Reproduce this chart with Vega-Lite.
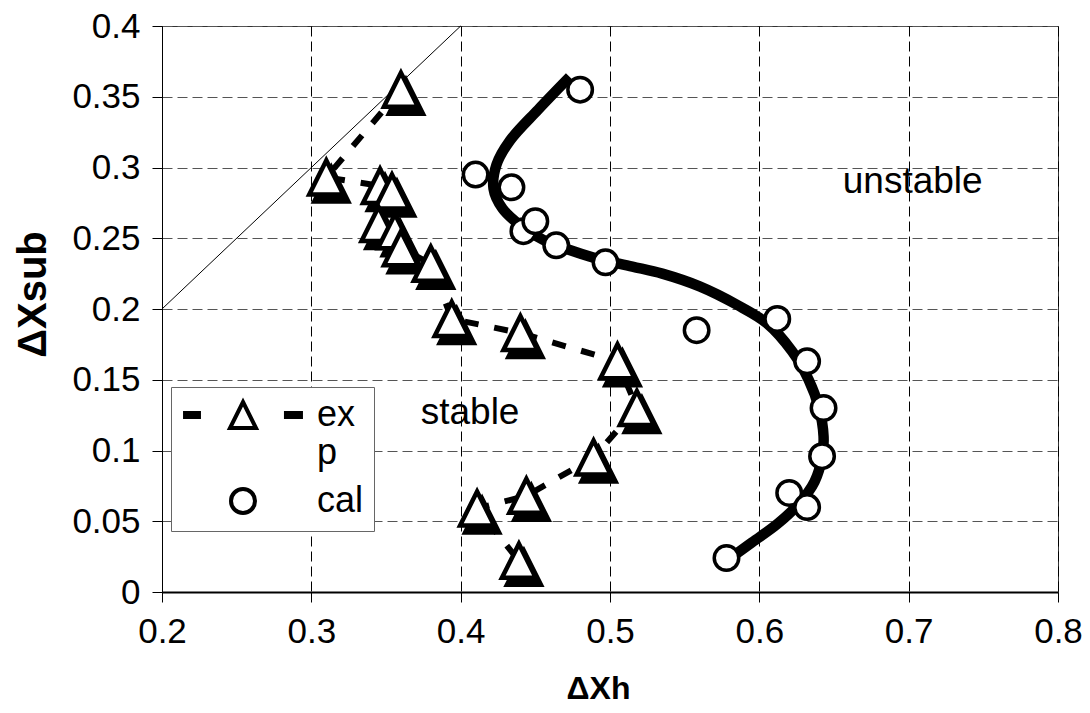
{
  "$schema": "https://vega.github.io/schema/vega-lite/v6.json",
  "width": 896,
  "height": 566,
  "autosize": {"type": "none"},
  "padding": {"left": 162, "top": 26, "right": 32, "bottom": 121},
  "background": "white",
  "config": {
    "font": "Liberation Sans",
    "view": {"stroke": "#333", "strokeWidth": 1},
    "axis": {
      "labelFont": "Liberation Sans",
      "titleFont": "Liberation Sans",
      "labelColor": "#000",
      "titleColor": "#000",
      "labelFontSize": 35,
      "titleFontWeight": "bold",
      "labelFlush": false,
      "labelOverlap": false,
      "grid": true,
      "gridDash": [10, 5],
      "gridWidth": 1,
      "tickColor": "#000",
      "tickSize": 10,
      "domainColor": "#000"
    }
  },
  "datasets": {
    "exp": [
      {"series": "exp", "i": 1, "x": 0.36, "y": 0.355},
      {"series": "exp", "i": 2, "x": 0.31, "y": 0.293},
      {"series": "exp", "i": 3, "x": 0.346, "y": 0.287},
      {"series": "exp", "i": 4, "x": 0.354, "y": 0.283},
      {"series": "exp", "i": 5, "x": 0.345, "y": 0.26},
      {"series": "exp", "i": 6, "x": 0.356, "y": 0.255},
      {"series": "exp", "i": 7, "x": 0.36, "y": 0.243},
      {"series": "exp", "i": 8, "x": 0.38, "y": 0.232},
      {"series": "exp", "i": 9, "x": 0.394, "y": 0.193},
      {"series": "exp", "i": 10, "x": 0.44, "y": 0.183},
      {"series": "exp", "i": 11, "x": 0.505, "y": 0.163},
      {"series": "exp", "i": 12, "x": 0.518, "y": 0.13},
      {"series": "exp", "i": 13, "x": 0.489, "y": 0.095},
      {"series": "exp", "i": 14, "x": 0.444, "y": 0.068},
      {"series": "exp", "i": 15, "x": 0.411, "y": 0.059},
      {"series": "exp", "i": 16, "x": 0.439, "y": 0.022}
    ],
    "cal": [
      {"series": "cal", "x": 0.48, "y": 0.355},
      {"series": "cal", "x": 0.41, "y": 0.295},
      {"series": "cal", "x": 0.434, "y": 0.286},
      {"series": "cal", "x": 0.442, "y": 0.255},
      {"series": "cal", "x": 0.45, "y": 0.262},
      {"series": "cal", "x": 0.464, "y": 0.245},
      {"series": "cal", "x": 0.497, "y": 0.233},
      {"series": "cal", "x": 0.558, "y": 0.185},
      {"series": "cal", "x": 0.612, "y": 0.193},
      {"series": "cal", "x": 0.632, "y": 0.163},
      {"series": "cal", "x": 0.643, "y": 0.13},
      {"series": "cal", "x": 0.642, "y": 0.096},
      {"series": "cal", "x": 0.62, "y": 0.07},
      {"series": "cal", "x": 0.632, "y": 0.06},
      {"series": "cal", "x": 0.578, "y": 0.024}
    ],
    "fit": [
      {"i": 1, "x": 0.473, "y": 0.364},
      {"i": 2, "x": 0.452, "y": 0.341},
      {"i": 3, "x": 0.433, "y": 0.319},
      {"i": 4, "x": 0.424, "y": 0.302},
      {"i": 5, "x": 0.422, "y": 0.285},
      {"i": 6, "x": 0.428, "y": 0.271},
      {"i": 7, "x": 0.44, "y": 0.259},
      {"i": 8, "x": 0.455, "y": 0.249},
      {"i": 9, "x": 0.472, "y": 0.242},
      {"i": 10, "x": 0.49, "y": 0.236},
      {"i": 11, "x": 0.515, "y": 0.23},
      {"i": 12, "x": 0.535, "y": 0.225},
      {"i": 13, "x": 0.56, "y": 0.216},
      {"i": 14, "x": 0.585, "y": 0.203},
      {"i": 15, "x": 0.605, "y": 0.19},
      {"i": 16, "x": 0.622, "y": 0.17},
      {"i": 17, "x": 0.633, "y": 0.15},
      {"i": 18, "x": 0.64, "y": 0.13},
      {"i": 19, "x": 0.643, "y": 0.11},
      {"i": 20, "x": 0.642, "y": 0.095},
      {"i": 21, "x": 0.637, "y": 0.078},
      {"i": 22, "x": 0.627, "y": 0.063},
      {"i": 23, "x": 0.612, "y": 0.048},
      {"i": 24, "x": 0.595, "y": 0.035},
      {"i": 25, "x": 0.578, "y": 0.022}
    ],
    "diag": [
      {"x": 0.2, "y": 0.2},
      {"x": 0.4, "y": 0.4}
    ],
    "notes": [
      {"x": 0.4063, "y": 0.1187, "label": "stable"},
      {"x": 0.7027, "y": 0.2818, "label": "unstable"}
    ]
  },
  "encoding": {
    "x": {
      "field": "x",
      "type": "quantitative",
      "scale": {"domain": [0.2, 0.8], "nice": false, "zero": false},
      "axis": {
        "values": [0.2, 0.3, 0.4, 0.5, 0.6, 0.7, 0.8],
        "format": ".1f",
        "title": "ΔXh",
        "titleFontSize": 32,
        "titleX": 436,
        "gridColor": "#000",
        "domainWidth": 2,
        "labelPadding": 12,
        "titlePadding": 24
      }
    },
    "y": {
      "field": "y",
      "type": "quantitative",
      "scale": {"domain": [0, 0.4], "nice": false, "zero": false},
      "axis": {
        "values": [0, 0.05, 0.1, 0.15, 0.2, 0.25, 0.3, 0.35, 0.4],
        "format": "~g",
        "title": "ΔXsub",
        "titleFontSize": 40,
        "titleY": 268,
        "gridColor": "#555",
        "domainWidth": 1,
        "labelPadding": 12,
        "titlePadding": 18
      }
    }
  },
  "layer": [
    {
      "data": {"name": "diag"},
      "mark": {"type": "line", "color": "#000", "strokeWidth": 1},
      "encoding": {}
    },
    {
      "data": {"name": "exp"},
      "mark": {"type": "line", "color": "#000", "strokeWidth": 6, "strokeDash": [14, 16], "strokeCap": "butt"},
      "encoding": {"order": {"field": "i", "type": "quantitative"}}
    },
    {
      "data": {"name": "exp"},
      "mark": {
        "type": "point",
        "shape": "M0,-1L-1,1L1,1Z",
        "size": 1156,
        "filled": true,
        "fill": "#000",
        "stroke": "#000",
        "strokeWidth": 4.5,
        "opacity": 1,
        "xOffset": 5,
        "yOffset": 7
      },
      "encoding": {}
    },
    {
      "data": {"name": "exp"},
      "mark": {
        "type": "point",
        "shape": "M0,-1L-1,1L1,1Z",
        "size": 1156,
        "filled": true,
        "fill": "#fff",
        "stroke": "#000",
        "strokeWidth": 4.5,
        "opacity": 1
      },
      "encoding": {}
    },
    {
      "data": {"name": "fit"},
      "mark": {"type": "line", "color": "#000", "strokeWidth": 10.5, "interpolate": "catmull-rom"},
      "encoding": {"order": {"field": "i", "type": "quantitative"}}
    },
    {
      "data": {"name": "cal"},
      "mark": {
        "type": "point",
        "shape": "circle",
        "size": 600,
        "filled": true,
        "fill": "#fff",
        "stroke": "#000",
        "strokeWidth": 3.5,
        "opacity": 1
      },
      "encoding": {}
    },
    {
      "data": {"name": "cal"},
      "transform": [{"filter": "false"}],
      "mark": {
        "type": "point",
        "filled": true,
        "fill": "#fff",
        "stroke": "#000",
        "strokeWidth": 4,
        "opacity": 1
      },
      "encoding": {
        "shape": {
          "field": "series",
          "type": "nominal",
          "scale": {
            "domain": ["exp", "cal"],
            "range": ["M-4.83,-0.167H-3.67V0.167H-4.83ZM3.58,-0.167H4.83V0.167H3.58ZM0,-1.083L1.083,1.083L-1.083,1.083Z", "circle"]
          },
          "legend": {
            "title": null,
            "orient": "none",
            "legendX": 9,
            "legendY": 361,
            "direction": "vertical",
            "padding": 10,
            "strokeColor": "#666",
            "fillColor": "#fff",
            "symbolSize": 576,
            "symbolOffset": 44,
            "symbolStrokeWidth": 4,
            "labelFont": "Liberation Sans",
            "labelFontSize": 36,
            "labelColor": "#000",
            "labelOffset": 56,
            "rowPadding": 10,
            "labelExpr": "datum.label == 'exp' ? ['ex', 'p'] : datum.label"
          }
        }
      }
    },
    {
      "data": {"name": "notes"},
      "mark": {"type": "text", "fontSize": 37, "font": "Liberation Sans", "color": "#000", "align": "center", "baseline": "alphabetic"},
      "encoding": {"text": {"field": "label"}}
    }
  ]
}
